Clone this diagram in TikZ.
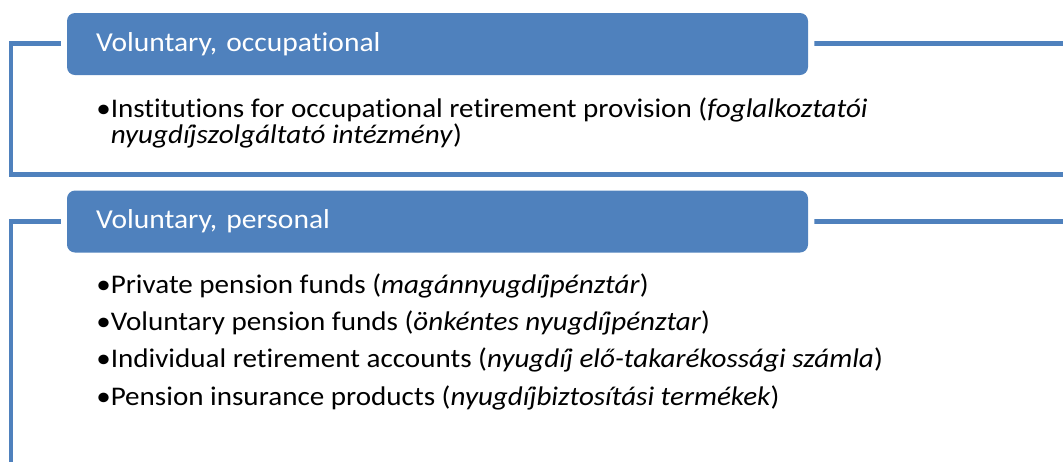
\documentclass[tikz,border=0pt]{standalone}
\usepackage{fontspec}
\setmainfont{Carlito}[FakeStretch=1.08,Ligatures=NoCommon]
\frenchspacing
\usetikzlibrary{positioning,calc}
\definecolor{accent}{RGB}{79,129,189}
\tikzstyle{header}=[rectangle,
                    rounded corners=6pt,
                    fill=accent,
                    text=white,
                    minimum width=555.75pt,
                    minimum height=46.5pt,
                    text width=512.25pt,
                    inner xsep=21.75pt,
                    align=left,
                    font=\fontsize{20.5}{24}\selectfont]
\tikzstyle{frame}=[draw=accent, line width=3.5pt]
\tikzstyle{items}=[anchor=base west,
                   inner sep=0pt,
                   align=left]

\begin{document}
\begin{tikzpicture}[x=0.75pt,y=-0.75pt]
    \useasboundingbox (0,0) rectangle (1063,462);
    \node[header] (occ) at (437.5,44) {Voluntary, occupational};
    \node[header, below=86.25pt of occ] (pers) {Voluntary, personal};
    \node[items, font=\fontsize{20.2}{19.5}\selectfont] (occlist) at (96,143.3)
      {•Institutions for occupational retirement provision (\textit{foglalkoztatói}\\
       \phantom{•}\textit{nyugdíjszolgáltató intézmény})};
    \node[items, font=\fontsize{20.2}{27.8}\selectfont] (perslist) at (96,405)
      {•Private pension funds (\textit{magánnyugdíjpénztár})\\
       •Voluntary pension funds (\textit{önkéntes nyugdíjpénztar})\\
       •Individual retirement accounts (\textit{nyugdíj elő-takarékossági számla})\\
       •Pension insurance products (\textit{nyugdíjbiztosítási termékek})};
    \coordinate (occ corner) at (11,174.5);
    \coordinate (occ end) at (1063,174.5);
    \coordinate (occ right) at (1063,43.5);
    \coordinate (pers corner) at (11,462);
    \coordinate (pers right) at (1063,221.5);
    \draw[frame] ([xshift=-4.5pt,yshift=0.4pt]occ.west) -| (occ corner) -- (occ end);
    \draw[frame] ([xshift=4.5pt,yshift=0.4pt]occ.east) -- (occ right);
    \draw[frame] ([xshift=-4.5pt]pers.west) -| (pers corner);
    \draw[frame] ([xshift=4.5pt]pers.east) -- (pers right);
\end{tikzpicture}
\end{document}
